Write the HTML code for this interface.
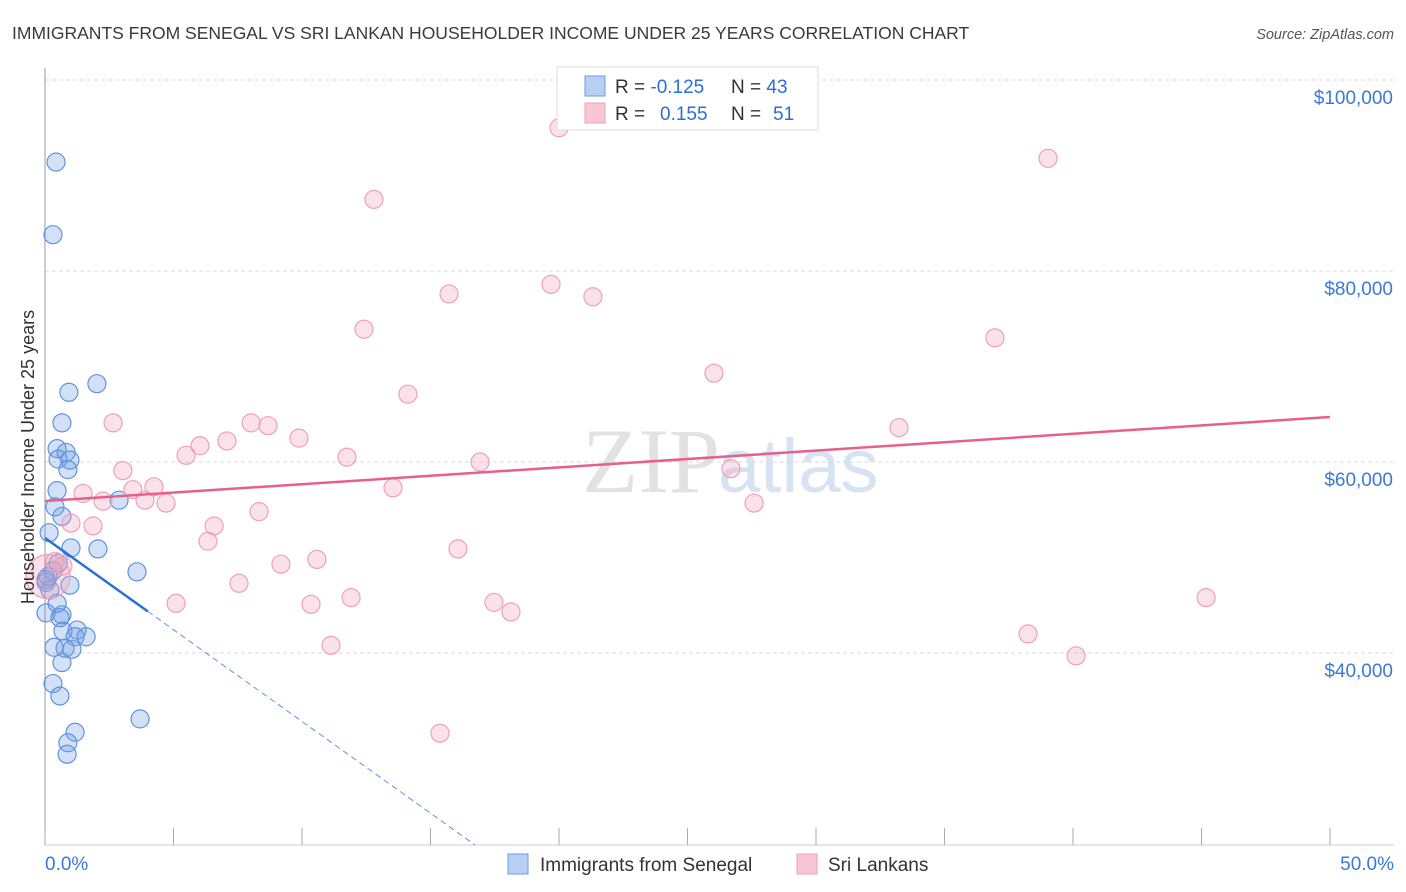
<!DOCTYPE html>
<html><head><meta charset="utf-8"><style>
body{margin:0;background:#fff;font-family:"Liberation Sans",sans-serif;}
svg{display:block}
</style></head><body>
<svg id="c" width="1406" height="892">
<text x="12" y="39" font-size="17.5" fill="#3a3a3a">IMMIGRANTS FROM SENEGAL VS SRI LANKAN HOUSEHOLDER INCOME UNDER 25 YEARS CORRELATION CHART</text>
<text x="1394" y="39" font-size="14.5" fill="#555" font-style="italic" text-anchor="end">Source: ZipAtlas.com</text>
<text x="720" y="492" font-size="92" fill="#e2e2e2" text-anchor="end" font-family="Liberation Serif,serif">ZIP</text>
<text x="718" y="492" font-size="76" fill="#d6e3f3">atlas</text>
<g id="grid"></g><g id="axes"></g><g id="marks"></g>
<text transform="translate(34,457) rotate(-90)" font-size="18" fill="#333" text-anchor="middle">Householder Income Under 25 years</text>
<g>
<rect x="557" y="67" width="261" height="63" fill="#fff" stroke="#ddd"/>
<rect x="585" y="76" width="20" height="20" fill="#b6cff3" stroke="#6f9be0"/>
<rect x="585" y="103" width="20" height="20" fill="#f8c6d5" stroke="#eea0b8"/>
<text x="615" y="93" font-size="19" fill="#333">R = <tspan fill="#2a6fd6">-0.125</tspan><tspan x="731">N = </tspan><tspan fill="#2a6fd6">43</tspan></text>
<text x="615" y="120" font-size="19" fill="#333">R = <tspan x="660" fill="#2a6fd6">0.155</tspan><tspan x="731">N = </tspan><tspan x="773" fill="#2a6fd6">51</tspan></text>
</g>
<g>
<rect x="508" y="854" width="20" height="20" fill="#b6cff3" stroke="#6f9be0"/>
<text x="540" y="871" font-size="19" fill="#333">Immigrants from Senegal</text>
<rect x="797" y="854" width="20" height="20" fill="#f8c6d5" stroke="#eea0b8"/>
<text x="828" y="871" font-size="19" fill="#333">Sri Lankans</text>
</g>
</svg>
<script>
const yTicks=[40000,60000,80000,100000];
const yTickLabels=["$40,000","$60,000","$80,000","$100,000"];
const xTickLabels=["0.0%","50.0%"];
const senegalX=[0.43,0.31,2.02,0.93,0.66,0.47,0.82,0.51,0.97,0.89,0.47,2.88,0.39,0.66,0.16,1.01,2.06,0.51,0.31,0.12,0.04,3.58,0.04,0.66,0.70,1.25,1.17,1.60,0.35,0.78,1.05,0.66,0.31,0.58,3.70,1.17,0.89,0.86,0.04,0.19,0.47,0.58,0.97];
const senegalY=[91.4,83.8,68.2,67.3,64.1,61.4,61.0,60.3,60.2,59.2,57.0,56.0,55.3,54.3,52.6,51.0,50.9,49.4,48.6,48.0,47.7,48.5,44.2,44.0,42.3,42.4,41.7,41.7,40.6,40.5,40.4,39.0,36.8,35.5,33.1,31.7,30.6,29.4,47.4,46.6,45.2,43.7,47.1];
const sriX=[20.00,39.03,12.80,19.69,15.72,21.32,12.41,36.96,26.03,14.12,2.65,8.02,8.68,33.23,9.88,7.08,6.03,5.49,11.75,16.93,3.03,26.69,13.54,1.48,4.24,3.42,3.89,2.26,4.71,27.59,8.33,1.87,1.01,6.58,6.34,16.07,10.58,9.18,0.70,0.39,7.55,11.91,5.10,10.35,17.47,18.13,11.13,38.25,45.18,40.12,15.37,0.12];
const sriY=[95.0,91.8,87.5,78.6,77.6,77.3,73.9,73.0,69.3,67.1,64.1,64.1,63.8,63.6,62.5,62.2,61.7,60.7,60.5,60.0,59.1,59.3,57.3,56.7,57.4,57.1,56.0,55.9,55.7,55.7,54.8,53.3,53.6,53.3,51.7,50.9,49.8,49.3,49.1,49.6,47.3,45.8,45.2,45.1,45.3,44.3,40.8,42.0,45.8,39.7,31.6,48.0];
const sriR=[9,9,9,9,9,9,9,9,9,9,9,9,9,9,9,9,9,9,9,9,9,9,9,9,9,9,9,9,9,9,9,9,9,9,9,9,9,9,9,9,9,9,9,9,9,9,9,9,9,9,9,22];
const senegalTrend=[52042,-1921];
const sriTrend=[55916,175.9];
const NS="http://www.w3.org/2000/svg";
const X0=45,X1=1330,YB=845;
const xs=p=>X0+p/50*(X1-X0);
const ys=v=>80+(100000-v)*191/20000;
function mk(tag,parent,attrs){const e=document.createElementNS(NS,tag);for(const k in attrs)e.setAttribute(k,attrs[k]);document.getElementById(parent).appendChild(e);return e;}
yTicks.forEach((t,i)=>{
 let l=mk('line','grid',{x1:X0,x2:1394,y1:ys(t),y2:ys(t),stroke:'#d8d8d8','stroke-dasharray':'4,3'});
 
 
 let tx=mk('text','axes',{x:1393,y:ys(t)+24,'font-size':19,fill:'#3b78d8','text-anchor':'end'});
 tx.textContent=yTickLabels[i];
 
 
});
let ax=mk('line','axes',{x1:X0,x2:X0,y1:68,y2:YB,stroke:'#999'});


let bx=mk('line','axes',{x1:X0,x2:1394,y1:YB,y2:YB,stroke:'#ccc'});


for(let i=0;i<=10;i++){
 let t=mk('line','axes',{x1:xs(i*5),x2:xs(i*5),y1:828,y2:YB,stroke:'#aaa'});
 
 
}
[[0,'start',45],[50,'end',1394]].forEach((d,i)=>{
 let t=mk('text','axes',{x:d[2],y:870,'font-size':19,fill:'#3b78d8','text-anchor':d[1]});
 t.textContent=xTickLabels[i];
 
 
});
senegalX.forEach((x,i)=>{
 let c=mk('circle','marks',{cx:xs(x),cy:ys(senegalY[i]*1000),r:9,fill:'rgba(110,155,225,0.3)',stroke:'#5f93e0','stroke-width':1.2});
 
 
});
sriX.forEach((x,i)=>{
 let c=mk('circle','marks',{cx:xs(x),cy:ys(sriY[i]*1000),r:sriR[i],fill:'rgba(242,160,185,0.3)',stroke:'#eea0b8','stroke-width':1.2});
 
 
});
const sv=x=>senegalTrend[0]+senegalTrend[1]*x;
let l1=mk('line','marks',{x1:xs(0),y1:ys(sv(0)),x2:xs(4),y2:ys(sv(4)),stroke:'#2a6fd6','stroke-width':2.5});


const xe=(senegalTrend[0]-(100000-(YB-80)*20000/191))/-senegalTrend[1];
let l2=mk('line','marks',{x1:xs(4),y1:ys(sv(4)),x2:xs(xe),y2:ys(sv(xe)),stroke:'#5f93e0','stroke-width':1,'stroke-dasharray':'6,4'});


const pv=x=>sriTrend[0]+sriTrend[1]*x;
let l3=mk('line','marks',{x1:xs(0),y1:ys(pv(0)),x2:xs(50),y2:ys(pv(50)),stroke:'#e8608a','stroke-width':2.5});


</script>
</body></html>
